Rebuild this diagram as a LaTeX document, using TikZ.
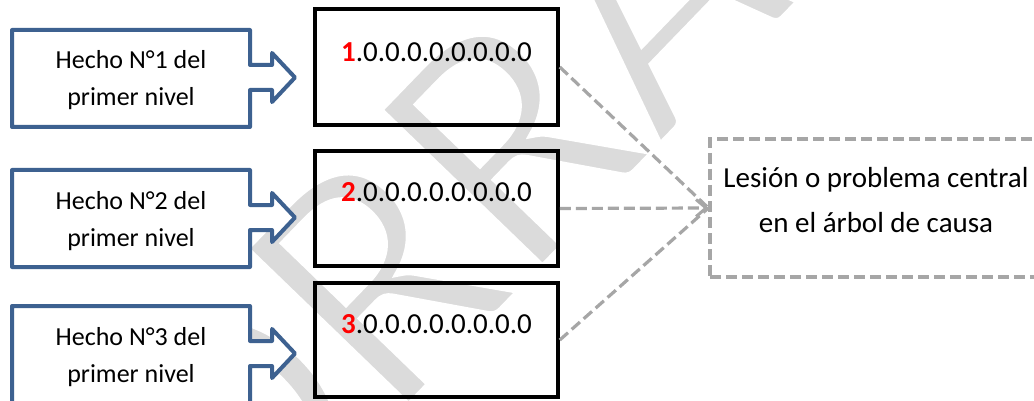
\documentclass[tikz,border=0pt]{standalone}
\usepackage{fontspec}
\setmainfont{Carlito}
\usetikzlibrary{arrows.meta}
\definecolor{calloutblue}{HTML}{3D6190}
\definecolor{dashgrey}{HTML}{A6A6A6}
\definecolor{wmgrey}{HTML}{DBDBDB}
\definecolor{numred}{HTML}{FF0000}
\begin{document}
\begin{tikzpicture}[x=1pt,y=-1pt,
  callout/.style={draw=calloutblue,line width=4pt,line join=round,fill=white},
  callouttext/.style={inner sep=0pt,align=center,font=\fontsize{26}{37}\selectfont},
  numbox/.style={draw=black,line width=3.5pt,minimum width=243pt,inner sep=0pt},
  numtext/.style={inner sep=0pt,anchor=base,font=\fontsize{29}{35}\selectfont},
  centralbox/.style={draw=dashgrey,line width=3.2pt,dash pattern=on 11pt off 5pt,minimum width=332pt,minimum height=138pt,inner sep=0pt},
  centraltext/.style={inner sep=0pt,align=center,font=\fontsize{29}{44}\selectfont},
  link/.style={draw=dashgrey,line width=3.2pt,dash pattern=on 11pt off 5pt},
  watermark/.style={inner sep=0pt,text=wmgrey,rotate=46,font=\fontsize{355}{400}\selectfont}
]
\useasboundingbox (0,0) rectangle (1034,401);
\fill[white] (0,0) rectangle (1034,401);
% watermark (thinned with a white outline stroke)
\begin{scope}
\node[watermark] (wm) at (590,55) {\special{pdf:literal direct 1 1 1 RG 8 w 2 Tr}BORRADOR\special{pdf:literal direct 0 Tr}};
\end{scope}
% number boxes
\node[numbox,minimum height=116pt] (b1) at (436.5,67) {};
\node[numbox,minimum height=115pt] (b2) at (436.5,208.5) {};
\node[numbox,minimum height=114pt] (b3) at (436.5,340) {};
\node[numtext] (n1) at ([yshift=-54pt]b1.north) {{\bfseries\color{numred}1}.0.0.0.0.0.0.0.0};
\node[numtext] (n2) at ([yshift=-52pt]b2.north) {{\bfseries\color{numred}2}.0.0.0.0.0.0.0.0};
\node[numtext] (n3) at ([yshift=-52pt]b3.north) {{\bfseries\color{numred}3}.0.0.0.0.0.0.0.0};
% central box
\node[centralbox] (L) at (876,208) {};
\node[centraltext] (Lt) at (876,201.2) {\strut Lesión o problema central\\\strut en el árbol de causa};
% links
\draw[link] (b1.east) -- (L.west);
\draw[link,-{Straight Barb[length=10pt,width=17pt,line width=3pt]}] (b2.east) -- (L.west);
\draw[link] (b3.east) -- (L.west);
% callouts
\foreach \i/\T in {1/30,2/170,3/306}{
  \draw[callout] (12,\T) -- (250,\T) -- (250,\T+35) -- (272,\T+35) -- (272,\T+23)
    -- (295,\T+47.5) -- (272,\T+72) -- (272,\T+60) -- (250,\T+60) -- (250,\T+97)
    -- (12,\T+97) -- cycle;
  \node[callouttext] (h\i) at (131,\T+50.1) {\strut Hecho N°\i{} del\\\strut primer nivel};
}
\end{tikzpicture}
\end{document}
